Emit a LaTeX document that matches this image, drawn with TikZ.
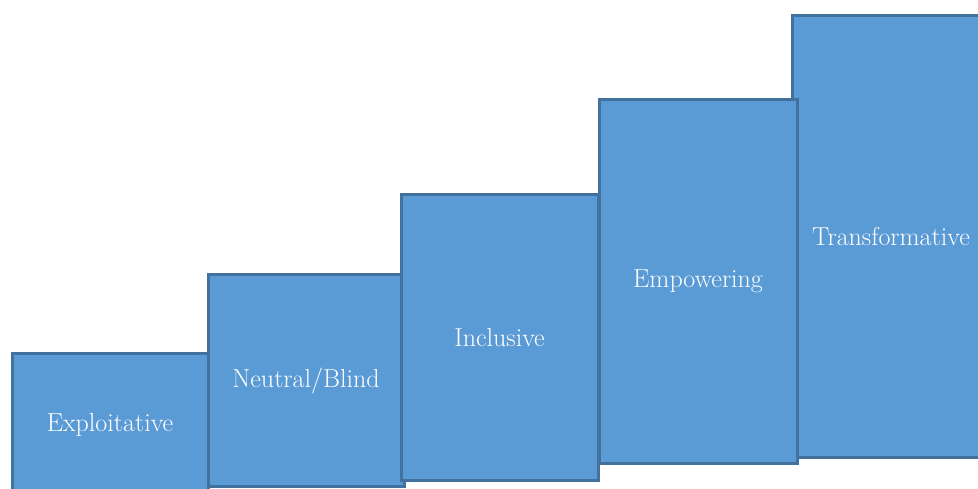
\documentclass[tikz,border=0pt]{standalone}
\usepackage{fontspec}
\definecolor{boxfill}{HTML}{5B9BD5}
\definecolor{boxline}{HTML}{41719C}
\tikzset{level/.style={draw=boxline, fill=boxfill, line width=3pt, rectangle,
  text=white, font=\fontsize{26}{30}\selectfont, inner sep=0pt}}
\begin{document}
\begin{tikzpicture}[x=1pt,y=-1pt]
\useasboundingbox (0,0) rectangle (978,489);
% steps, from lowest to highest
\node[level, minimum width=196pt, minimum height=144pt] (expl) at (110,425) {Exploitative};
\node[level, minimum width=196pt, minimum height=211pt] (neut) at (306,380.5) {Neutral/Blind};
\node[level, minimum width=197pt, minimum height=285pt] (incl) at (499.5,337.5) {Inclusive};
\node[level, minimum width=198pt, minimum height=441pt] (trans) at (891,236.5) {Transformative};
\node[level, minimum width=198pt, minimum height=363pt] (empo) at (698,281.5) {Empowering};
\end{tikzpicture}
\end{document}
